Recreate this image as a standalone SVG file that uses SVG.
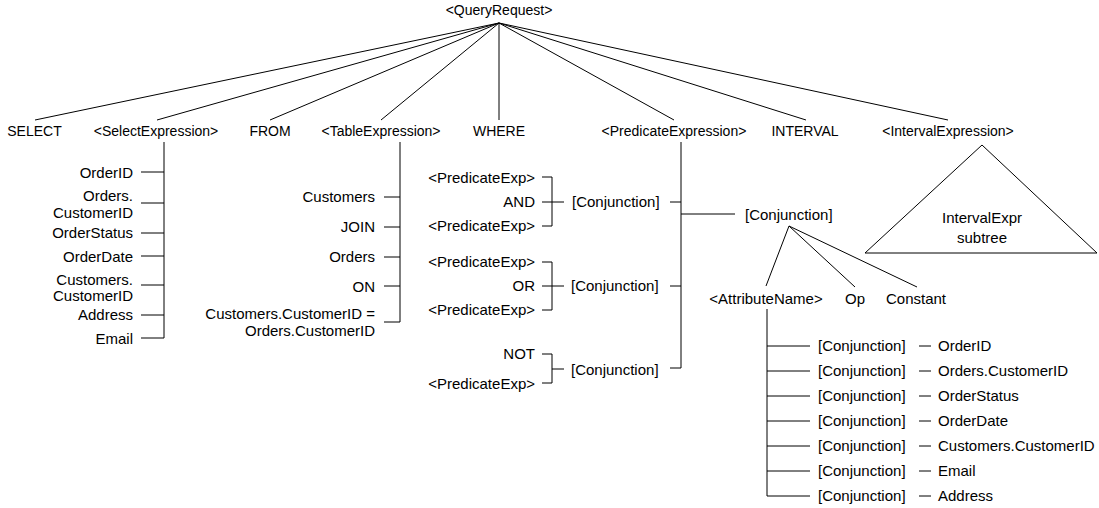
<svg xmlns="http://www.w3.org/2000/svg" width="1099" height="508" viewBox="0 0 1099 508">
<style>
text{font-family:"Liberation Sans",Arial,sans-serif;font-size:15px;fill:#000}
.top{font-size:14px}
.r{text-anchor:end}
.m{text-anchor:middle}
.c line,.c path,.c polyline{stroke:#000;stroke-width:1;fill:none}
.tri{stroke:#000;stroke-width:1;fill:#fff}
</style>
<rect width="1099" height="508" fill="#fff"/>
<g id="connectors" class="c">
<line x1="499" y1="23" x2="35" y2="120"/>
<line x1="499" y1="23" x2="157" y2="120"/>
<line x1="499" y1="23" x2="270" y2="120"/>
<line x1="499" y1="23" x2="381" y2="120"/>
<line x1="499" y1="23" x2="499" y2="120"/>
<line x1="499" y1="23" x2="674" y2="120"/>
<line x1="499" y1="23" x2="806" y2="120"/>
<line x1="499" y1="23" x2="948" y2="120"/>
<!-- select expression -->
<polyline points="164,142 164,338 141,338"/>
<line x1="141" y1="172" x2="164" y2="172"/>
<line x1="141" y1="203" x2="164" y2="203"/>
<line x1="141" y1="233" x2="164" y2="233"/>
<line x1="141" y1="256" x2="164" y2="256"/>
<line x1="141" y1="285" x2="164" y2="285"/>
<line x1="141" y1="315" x2="164" y2="315"/>
<!-- table expression -->
<polyline points="400,142 400,322 384,322"/>
<line x1="384" y1="197" x2="400" y2="197"/>
<line x1="384" y1="227" x2="400" y2="227"/>
<line x1="384" y1="257" x2="400" y2="257"/>
<line x1="384" y1="286" x2="400" y2="286"/>
<!-- predicate expression -->
<polyline points="681,142 681,368 670,368"/>
<line x1="670" y1="202" x2="681" y2="202"/>
<line x1="670" y1="286" x2="681" y2="286"/>
<line x1="681" y1="214" x2="735" y2="214"/>
<polyline points="542,177 552,177 552,226 542,226"/>
<line x1="542" y1="202" x2="564" y2="202"/>
<polyline points="542,262 552,262 552,310 542,310"/>
<line x1="542" y1="286" x2="564" y2="286"/>
<polyline points="542,354 552,354 552,383 542,383"/>
<line x1="552" y1="369" x2="564" y2="369"/>
<!-- conjunction -> attribute, op, constant -->
<line x1="789" y1="226" x2="766" y2="286"/>
<line x1="789" y1="226" x2="855" y2="287"/>
<line x1="789" y1="226" x2="917" y2="287"/>
<!-- attribute name -->
<polyline points="767,309 767,496 810,496"/>
<line x1="767" y1="346" x2="810" y2="346"/>
<line x1="767" y1="371" x2="810" y2="371"/>
<line x1="767" y1="396" x2="810" y2="396"/>
<line x1="767" y1="421" x2="810" y2="421"/>
<line x1="767" y1="446" x2="810" y2="446"/>
<line x1="767" y1="471" x2="810" y2="471"/>
<line x1="919" y1="346" x2="931" y2="346"/>
<line x1="919" y1="371" x2="931" y2="371"/>
<line x1="919" y1="396" x2="931" y2="396"/>
<line x1="919" y1="421" x2="931" y2="421"/>
<line x1="919" y1="446" x2="931" y2="446"/>
<line x1="919" y1="471" x2="931" y2="471"/>
<line x1="919" y1="496" x2="931" y2="496"/>
</g>
<g id="n-queryrequest"><text class="m top" x="499" y="15">&lt;QueryRequest&gt;</text></g>
<g id="n-select"><text class="m top" x="34.5" y="136">SELECT</text></g>
<g id="n-selectexpression"><text class="m top" x="156" y="136">&lt;SelectExpression&gt;</text></g>
<g id="n-from"><text class="m top" x="270" y="136">FROM</text></g>
<g id="n-tableexpression"><text class="m top" x="381" y="136">&lt;TableExpression&gt;</text></g>
<g id="n-where"><text class="m top" x="499" y="136">WHERE</text></g>
<g id="n-predicateexpression"><text class="m top" x="674" y="136">&lt;PredicateExpression&gt;</text></g>
<g id="n-interval"><text class="m top" x="805" y="136">INTERVAL</text></g>
<g id="n-intervalexpression"><text class="m top" x="948" y="136">&lt;IntervalExpression&gt;</text></g>
<g id="n-select-items">
<text class="r" x="133" y="178">OrderID</text>
<text class="r" x="133" y="201">Orders.</text>
<text class="r" x="133" y="218">CustomerID</text>
<text class="r" x="133" y="238">OrderStatus</text>
<text class="r" x="133" y="262">OrderDate</text>
<text class="r" x="133" y="285">Customers.</text>
<text class="r" x="133" y="301">CustomerID</text>
<text class="r" x="133" y="320">Address</text>
<text class="r" x="133" y="344">Email</text>
</g>
<g id="n-table-items">
<text class="r" x="375" y="202">Customers</text>
<text class="r" x="375" y="232">JOIN</text>
<text class="r" x="375" y="262">Orders</text>
<text class="r" x="375" y="292">ON</text>
<text class="r" x="375" y="319">Customers.CustomerID =</text>
<text class="r" x="375" y="336">Orders.CustomerID</text>
</g>
<g id="n-and">
<text class="r" x="535" y="183">&lt;PredicateExp&gt;</text>
<text class="r" x="535" y="207">AND</text>
<text class="r" x="535" y="231">&lt;PredicateExp&gt;</text>
<text x="572" y="207">[Conjunction]</text>
</g>
<g id="n-or">
<text class="r" x="535" y="267">&lt;PredicateExp&gt;</text>
<text class="r" x="535" y="291">OR</text>
<text class="r" x="535" y="315">&lt;PredicateExp&gt;</text>
<text x="571" y="291">[Conjunction]</text>
</g>
<g id="n-not">
<text class="r" x="535" y="359">NOT</text>
<text class="r" x="535" y="389">&lt;PredicateExp&gt;</text>
<text x="571" y="375">[Conjunction]</text>
</g>
<g id="n-conjunction"><text x="745" y="220">[Conjunction]</text></g>
<g id="n-attributename"><text class="m" x="766" y="304">&lt;AttributeName&gt;</text></g>
<g id="n-op"><text class="m" x="855" y="304">Op</text></g>
<g id="n-constant"><text class="m" x="916" y="304">Constant</text></g>
<g id="n-attr-items">
<text x="818" y="351">[Conjunction]</text><text x="938" y="351">OrderID</text>
<text x="818" y="376">[Conjunction]</text><text x="938" y="376">Orders.CustomerID</text>
<text x="818" y="401">[Conjunction]</text><text x="938" y="401">OrderStatus</text>
<text x="818" y="426">[Conjunction]</text><text x="938" y="426">OrderDate</text>
<text x="818" y="451">[Conjunction]</text><text x="938" y="451">Customers.CustomerID</text>
<text x="818" y="476">[Conjunction]</text><text x="938" y="476">Email</text>
<text x="818" y="501">[Conjunction]</text><text x="938" y="501">Address</text>
</g>
<g id="n-intervalsubtree">
<polygon class="tri" points="982,145 865,253 1097,253"/>
<text class="m" x="982" y="223">IntervalExpr</text>
<text class="m" x="982" y="243">subtree</text>
</g>
</svg>
